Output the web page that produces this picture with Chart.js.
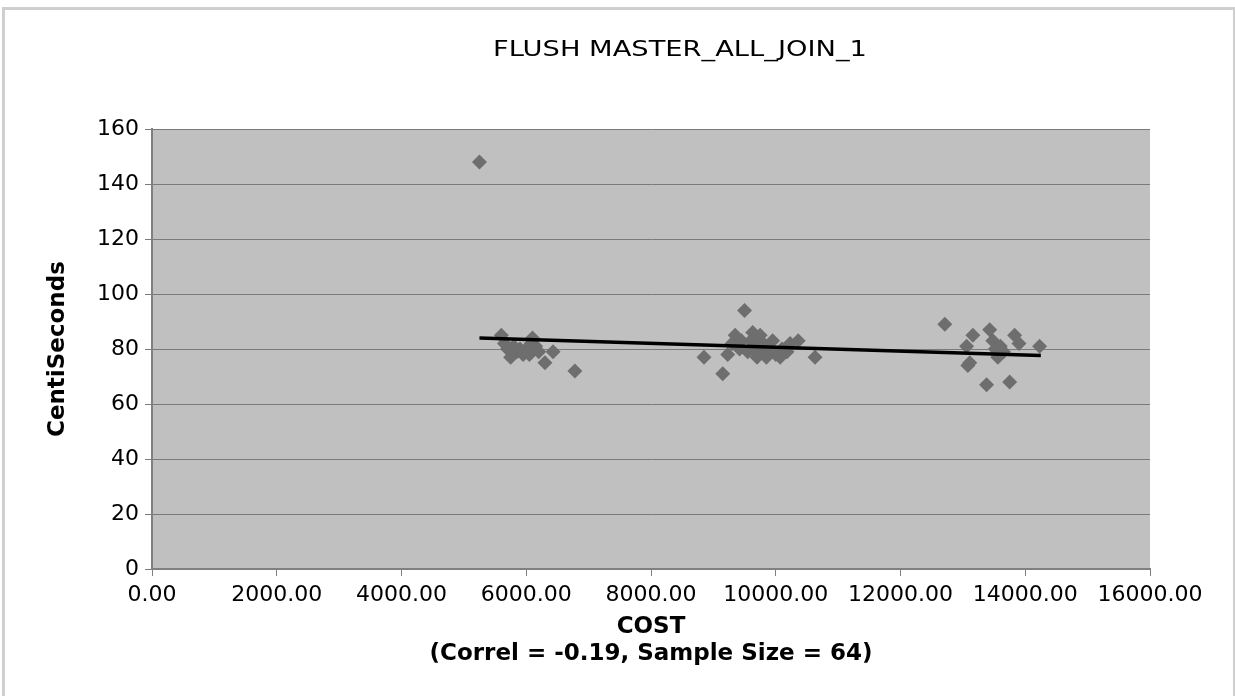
<!DOCTYPE html>
<html>
<head>
<meta charset="utf-8">
<script src="https://cdn.jsdelivr.net/npm/chart.js@4.4.1/dist/chart.umd.min.js"></script>
<style>
  html, body { margin: 0; padding: 0; background: #fff; }
  #wrap { position: relative; width: 1235px; height: 696px; }
  #frame { position: absolute; left: 2px; top: 7px; width: 1228px; height: 686px; border: 3px solid #cfcfcf; pointer-events: none; }
</style>
</head>
<body>
<div id="wrap">
  <canvas id="myChart" width="1235" height="696"></canvas>
  <div id="frame"></div>
</div>
<script>
const cost = [
  5250, 5600, 5650, 5700, 5750, 5800, 5850, 5900, 5950, 6000, 6050, 6080, 6100, 6150, 6200, 6300, 6430, 6780,
  8850, 9150, 9230, 9300, 9350, 9420, 9450, 9500, 9550, 9600, 9630, 9650, 9680, 9700, 9720, 9750, 9780, 9800,
  9850, 9880, 9900, 9950, 10000, 10070, 10100, 10180, 10230, 10360, 10630,
  12710, 13060, 13080, 13110, 13160, 13380, 13430, 13480, 13520, 13560, 13600, 13650, 13750, 13830, 13900, 14230
];
const centiSeconds = [
  148, 85, 82, 80, 77, 81, 79, 80, 78, 80, 78, 82, 84, 81, 79, 75, 79, 72,
  77, 71, 78, 82, 85, 80, 83, 94, 79, 83, 86, 80, 81, 77, 83, 85, 79, 82,
  77, 81, 80, 83, 78, 77, 80, 79, 82, 83, 77,
  89, 81, 74, 75, 85, 67, 87, 83, 80, 77, 81, 79, 68, 85, 82, 81
];
const trendCost = [5250, 14250];
const trendCs = [84, 77.7];

const xTicks = [0, 2000, 4000, 6000, 8000, 10000, 12000, 14000, 16000];
const yTicks = [0, 20, 40, 60, 80, 100, 120, 140, 160];

const chartTitle = "FLUSH MASTER_ALL_JOIN_1";
const xTitle = ["COST", "(Correl = -0.19, Sample Size = 64)"];
const yTitle = "CentiSeconds";

const FONT = "'DejaVu Sans', 'Liberation Sans', Arial, sans-serif";

const points = cost.map((c, i) => ({ x: c, y: centiSeconds[i] }));
const trend = trendCost.map((c, i) => ({ x: c, y: trendCs[i] }));

const plotBg = {
  id: "plotBg",
  beforeDraw(chart) {
    const { ctx, chartArea } = chart;
    ctx.save();
    ctx.fillStyle = "#c0c0c0";
    ctx.fillRect(chartArea.left, chartArea.top, chartArea.right - chartArea.left, chartArea.bottom - chartArea.top);
    ctx.restore();
  },
  afterDraw(chart) {
    // title is a bit wider than the font, stretch it horizontally
    const { ctx } = chart;
    ctx.save();
    ctx.fillStyle = "#000";
    ctx.font = "21px " + FONT;
    ctx.textAlign = "center";
    ctx.textBaseline = "middle";
    ctx.scale(1.3, 1);
    ctx.fillText(chartTitle, 680 / 1.3, 51);
    ctx.restore();
  },
};

const config = {
  type: "scatter",
  data: {
    datasets: [
      {
        type: "line",
        label: "trend",
        data: trend,
        borderColor: "#000",
        borderWidth: 3.5,
        pointRadius: 0,
        fill: false,
        order: 0,
      },
      {
        label: "CentiSeconds",
        data: points,
        pointStyle: "rectRot",
        pointRadius: 7.5,
        backgroundColor: "#6e6e6e",
        borderColor: "#6e6e6e",
        borderWidth: 0,
        order: 1,
      },
    ],
  },
  options: {
    responsive: false,
    animation: false,
    layout: {
      padding: { top: 129, right: 85, bottom: 29, left: 0 },
    },
    plugins: {
      legend: { display: false },
      tooltip: { enabled: false },
    },
    scales: {
      x: {
        type: "linear",
        min: 0,
        max: 16000,
        afterBuildTicks: (scale) => { scale.ticks = xTicks.map((v) => ({ value: v })); },
        ticks: {
          callback: (v) => Number(v).toFixed(2),
          font: { size: 22, family: FONT, lineHeight: 1.0 },
          color: "#000",
          maxRotation: 0,
          autoSkip: false,
          padding: 8,
        },
        grid: { drawOnChartArea: false, color: "#808080", tickLength: 7 },
        border: { color: "#808080", width: 2 },
        title: {
          display: true,
          text: xTitle,
          font: { size: 23, weight: "bold", family: FONT, lineHeight: 1.15 },
          color: "#000",
          padding: { top: 0, bottom: 0 },
        },
      },
      y: {
        min: 0,
        max: 160,
        afterBuildTicks: (scale) => { scale.ticks = yTicks.map((v) => ({ value: v })); },
        afterFit: (scale) => { scale.width = 152; },
        ticks: {
          font: { size: 22, family: FONT },
          color: "#000",
          padding: 6,
        },
        grid: { color: "#7a7a7a", tickLength: 7 },
        border: { color: "#808080", width: 2 },
        title: {
          display: true,
          text: yTitle,
          font: { size: 23, weight: "bold", family: FONT },
          color: "#000",
          padding: { top: 44, bottom: 0 },
        },
      },
    },
  },
  plugins: [plotBg],
};

const myChart = new Chart(document.getElementById("myChart"), config);
</script>
</body>
</html>
